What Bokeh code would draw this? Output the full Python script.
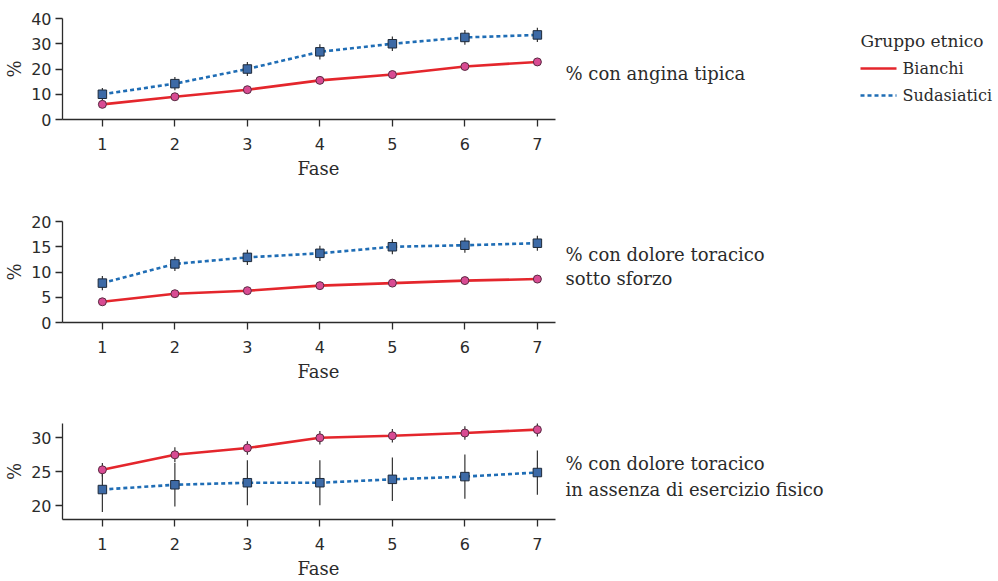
from bokeh.plotting import figure
from bokeh.layouts import column, row
from bokeh.models import Range1d, FixedTicker, Title
from bokeh.embed import file_html
from bokeh.resources import INLINE

# Study phases
fasi = [1, 2, 3, 4, 5, 6, 7]
x_ticks = [1, 2, 3, 4, 5, 6, 7]

# % con angina tipica
angina_bianchi = [6.0, 9.0, 11.8, 15.5, 17.8, 21.0, 22.8]
angina_bianchi_err = [0.8, 0.8, 0.8, 0.9, 0.9, 0.9, 0.9]
angina_sud = [10.0, 14.2, 20.0, 26.8, 30.0, 32.5, 33.5]
angina_sud_err = [2.5, 2.6, 2.8, 3.0, 2.9, 2.9, 2.8]

# % con dolore toracico sotto sforzo
sforzo_bianchi = [4.1, 5.7, 6.3, 7.3, 7.8, 8.3, 8.6]
sforzo_bianchi_err = [0.4, 0.4, 0.4, 0.4, 0.4, 0.4, 0.4]
sforzo_sud = [7.8, 11.6, 12.9, 13.7, 15.0, 15.3, 15.7]
sforzo_sud_err = [1.4, 1.4, 1.5, 1.5, 1.5, 1.5, 1.5]

# % con dolore toracico in assenza di esercizio fisico
riposo_bianchi = [25.3, 27.5, 28.5, 30.0, 30.3, 30.7, 31.2]
riposo_bianchi_err = [1.0, 1.1, 1.0, 1.0, 1.0, 1.0, 1.0]
riposo_sud = [22.4, 23.1, 23.4, 23.4, 23.9, 24.3, 24.9]
riposo_sud_err = [3.3, 3.2, 3.3, 3.3, 3.2, 3.25, 3.25]

y_ticks_1 = [0, 10, 20, 30, 40]
y_ticks_2 = [0, 5, 10, 15, 20]
y_ticks_3 = [20, 25, 30]

panel_titles = [
    ["% con angina tipica"],
    ["% con dolore toracico", "sotto sforzo"],
    ["% con dolore toracico", "in assenza di esercizio fisico"],
]
gruppi = ["Bianchi", "Sudasiatici"]
legend_title = "Gruppo etnico"

RED = "#e4262c"
BLUE = "#1f6db5"
PINK = "#d84b93"
SQUARE_FILL = "#3d6aa6"
INK = "#2b2b2b"
SANS = "DejaVu Sans"
SERIF = "DejaVu Serif"

PANEL_W = 556
SIDE_W = 998 - PANEL_W
LEFT = 62


def panel(height, top, bottom, y_range, y_ticks, bianchi, b_err, sud, s_err):
    p = figure(width=PANEL_W, height=height, output_backend="svg", toolbar_location=None,
               x_range=Range1d(0.45, 7.25), y_range=Range1d(*y_range),
               min_border_left=LEFT, min_border_right=1,
               min_border_top=top, min_border_bottom=bottom)
    p.outline_line_color = None
    p.grid.visible = False

    p.xaxis.ticker = FixedTicker(ticks=x_ticks)
    p.yaxis.ticker = FixedTicker(ticks=y_ticks)
    p.yaxis.axis_label = "%"
    for ax in (p.xaxis[0], p.yaxis[0]):
        ax.axis_line_color = INK
        ax.axis_line_width = 1.3
        ax.major_tick_line_color = INK
        ax.major_tick_line_width = 1.3
        ax.major_tick_out = 7
        ax.major_tick_in = 0
        ax.minor_tick_line_color = None
        ax.major_label_text_font = SANS
        ax.major_label_text_font_size = "16px"
        ax.major_label_text_color = INK
        ax.axis_label_text_font = SERIF
        ax.axis_label_text_font_size = "18px"
        ax.axis_label_text_font_style = "normal"
        ax.axis_label_text_color = INK
    p.xaxis.major_label_standoff = 11
    p.yaxis.major_label_standoff = 4
    p.yaxis.axis_label_standoff = 3

    # "Fase" centred under the 1..7 tick span rather than under the whole frame
    p.add_layout(Title(text="Fase", align="left", offset=235, standoff=6,
                       text_font=SERIF, text_font_size="18px",
                       text_font_style="normal", text_color=INK), "below")

    p.line(fasi, bianchi, line_color=RED, line_width=2.6)
    p.line(fasi, sud, line_color=BLUE, line_width=2.6, line_dash="4 3")

    lo_b = [v - e for v, e in zip(bianchi, b_err)]
    hi_b = [v + e for v, e in zip(bianchi, b_err)]
    lo_s = [v - e for v, e in zip(sud, s_err)]
    hi_s = [v + e for v, e in zip(sud, s_err)]
    p.segment(fasi, lo_s, fasi, hi_s, line_color="#333333", line_width=1.2)
    p.segment(fasi, lo_b, fasi, hi_b, line_color="#333333", line_width=1.2)

    p.scatter(fasi, bianchi, marker="circle", size=8, fill_color=PINK,
              line_color="#5a2a42", line_width=1)
    p.scatter(fasi, sud, marker="square", size=8.5, fill_color=SQUARE_FILL,
              line_color="#1e2a3a", line_width=1)
    return p


# frames: 18..119, 221..322, 423..522
p1 = panel(202, 18, 83, (0, 40), y_ticks_1,
           angina_bianchi, angina_bianchi_err, angina_sud, angina_sud_err)
p2 = panel(202, 19, 82, (0, 20), y_ticks_2,
           sforzo_bianchi, sforzo_bianchi_err, sforzo_sud, sforzo_sud_err)
p3 = panel(177, 19, 59, (18, 32.1), y_ticks_3,
           riposo_bianchi, riposo_bianchi_err, riposo_sud, riposo_sud_err)

# Side column: panel captions and the group legend, in pixel coordinates (y down)
side = figure(width=SIDE_W, height=581, output_backend="svg", toolbar_location=None,
              x_range=Range1d(0, SIDE_W), y_range=Range1d(581, 0),
              min_border=0)
side.axis.visible = False
side.grid.visible = False
side.outline_line_color = None

caption_x = 9
caption_y = [[73], [254, 278], [463, 489]]
for lines, ys in zip(panel_titles, caption_y):
    side.text(x=[caption_x] * len(lines), y=ys, text=lines,
              text_font={"value": SERIF}, text_font_size="18px",
              text_color=INK, text_baseline="middle", text_align="left")

# legend: title, line swatches and group names
leg_x = 304
leg_y = [68, 95]
side.text(x=[leg_x], y=[40], text=[legend_title],
          text_font={"value": SERIF}, text_font_size="17px",
          text_color=INK, text_baseline="middle", text_align="left")
side.segment(x0=[leg_x], y0=[leg_y[0]], x1=[leg_x + 36], y1=[leg_y[0]],
             line_color=RED, line_width=2.6)
side.segment(x0=[leg_x], y0=[leg_y[1]], x1=[leg_x + 36], y1=[leg_y[1]],
             line_color=BLUE, line_width=2.6, line_dash="4 3")
side.text(x=[leg_x + 42] * 2, y=leg_y, text=gruppi,
          text_font={"value": SERIF}, text_font_size="16px",
          text_color=INK, text_baseline="middle", text_align="left")

layout = row(column(p1, p2, p3, spacing=0), side, spacing=0)

open("out.html", "w").write(file_html(layout, INLINE))
